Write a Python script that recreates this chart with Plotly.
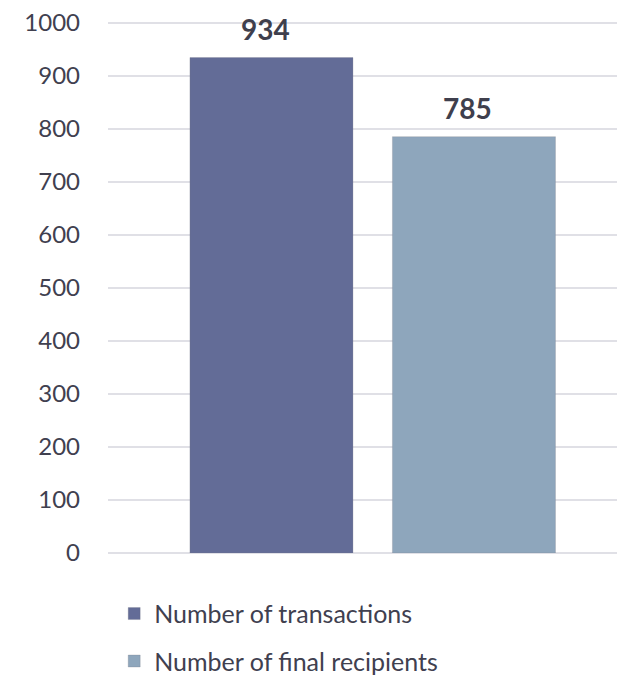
import plotly.graph_objects as go

categories = [""]
series_names = ["Number of transactions", "Number of final recipients"]
transactions = [934]
final_recipients = [785]
y_ticks = [0, 100, 200, 300, 400, 500, 600, 700, 800, 900, 1000]

text_color = "#40404f"
font_family = "Lato, 'Open Sans', sans-serif"

FIG_W, FIG_H = 617, 677  # page body has an 8px margin
M_L, M_R, M_T, M_B = 100, 0, 13, 132
PLOT_W = FIG_W - M_L - M_R
BARGAP = 0.2166
slot_px = PLOT_W * (1 - BARGAP) / 2

fig = go.Figure()
series = [(transactions, "#636c97", "a"), (final_recipients, "#8ea6bc", "b")]
for i, (vals, color, grp) in enumerate(series):
    fig.add_trace(go.Bar(
        x=categories, y=vals, name=series_names[i],
        marker=dict(color=color, line=dict(color="rgba(120,120,130,0.25)", width=1)),
        legendgroup=grp,
    ))
    shift = (i - 0.5) * slot_px
    for c, v in zip(categories, vals):
        fig.add_annotation(x=c, y=v, xref="x", yref="y", text=f"<b>{v}</b>",
                           showarrow=False, xshift=shift, yshift=10, yanchor="bottom",
                           font=dict(size=28, color="#3f3f4d", family=font_family))

fig.update_layout(
    width=FIG_W, height=FIG_H,
    margin=dict(l=M_L, r=M_R, t=M_T, b=M_B, autoexpand=False),
    paper_bgcolor="white", plot_bgcolor="white",
    font=dict(family=font_family, size=25, color=text_color),
    barmode="group", bargap=BARGAP, bargroupgap=0.195,
    showlegend=True,
    legend=dict(orientation="v", x=0.012, xanchor="left", y=-0.071, yanchor="top",
                font=dict(size=25, color=text_color), tracegroupgap=12,
                bgcolor="rgba(0,0,0,0)"),
)
fig.update_xaxes(type="category", range=[-0.512, 0.488], showticklabels=False,
                 showgrid=False, showline=False, zeroline=False, ticks="", automargin=False)
fig.update_yaxes(range=[0, 1003], tickvals=y_ticks, showgrid=True, gridcolor="#e0e0e6",
                 gridwidth=1.5, zeroline=True, zerolinecolor="#e0e0e6", zerolinewidth=1.5,
                 showline=False, ticks="", ticklabelstandoff=27, automargin=False,
                 ticklabeloverflow="allow",
                 tickfont=dict(size=24, color=text_color))

fig.write_html("out.html")
